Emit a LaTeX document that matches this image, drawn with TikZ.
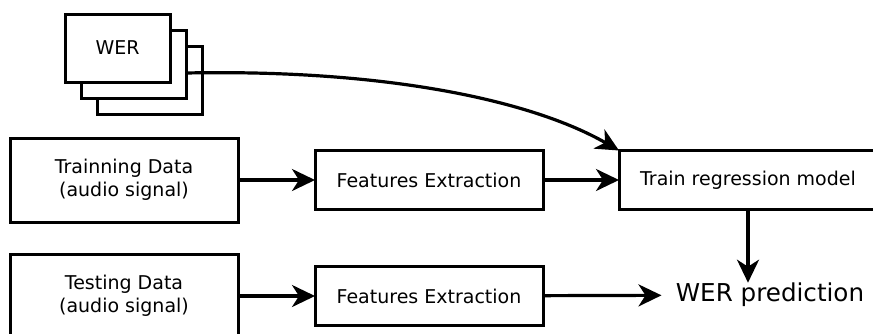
\documentclass[tikz,border=0pt]{standalone}
\usepackage{fontspec}
\setmainfont{DejaVu Sans}
\usetikzlibrary{positioning,arrows.meta}

\begin{document}
\begin{tikzpicture}[x=0.5pt, y=-0.5pt,
    every node/.style={font=\fontsize{9.5}{11.5}\selectfont},
    box/.style={draw, rectangle, line width=1.5pt, fill=white, align=center, outer sep=0pt, inner sep=0pt},
    flow/.style={-{Stealth[length=11.5pt, width=11pt, inset=3.5pt]}, line width=1.6pt}]
    \useasboundingbox (0,0) rectangle (873,333);

    % WER stack
    \node[box, minimum width=52.5pt, minimum height=34pt] (wer3) at (149.5,80) {};
    \node[box, minimum width=52.5pt, minimum height=34pt] (wer2) at (133.5,64) {};
    \node[box, minimum width=52.5pt, minimum height=34pt] (wer) at (117.5,48) {WER};
    \coordinate (wer-out) at ([yshift=-4.5pt]wer2.east);

    % Training
    \node[box, minimum width=114pt, minimum height=42pt] (train-data) at (124,180) {Trainning Data\\(audio signal)};
    \node[box, minimum width=114pt, minimum height=29.5pt, right=38.5pt of train-data] (fe1) {Features Extraction};
    \node[box, minimum width=129pt, minimum height=29.5pt, right=38pt of fe1] (model) {Train regression model};

    % Testing
    \node[box, minimum width=114pt, minimum height=42pt, below=16pt of train-data] (test-data) {Testing Data\\(audio signal)};
    \node[box, minimum width=114pt, minimum height=29.5pt, below=28.5pt of fe1] (fe2) {Features Extraction};
    \node[inner sep=0pt, font=\fontsize{12.3}{14}\selectfont] (pred) at (770,295) {WER prediction};

    % Arrows
    \draw[flow] (wer-out) .. controls +(200,-4) and +(-87,-50) .. (model.north west);
    \draw[flow] (train-data) -- (fe1);
    \draw[flow] (fe1) -- (model);
    \draw[flow] (test-data) -- (fe2);
    \draw[flow, shorten >=7pt] (fe2) -- (pred);
    \draw[flow] (model) -- (model.south |- pred.north);
\end{tikzpicture}
\end{document}
